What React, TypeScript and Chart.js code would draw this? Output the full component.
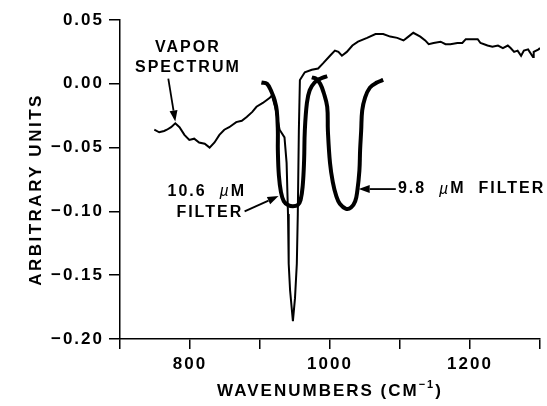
import { useEffect, useRef } from 'react';
import { Chart, registerables } from 'chart.js';

Chart.register(...registerables);

// ---- data ----
const vaporWavenumbers = [
  749, 756, 763, 767, 773, 779, 785, 792, 799, 806, 813, 821, 828, 835, 842, 849, 856, 866, 874, 881,
  889, 895, 904, 914, 917, 922, 928, 935, 938, 940, 941, 943, 947, 950, 952.6, 954, 955.5, 957, 964, 974,
  983, 990, 1000, 1007, 1012, 1017, 1024, 1032, 1040, 1053, 1065, 1076, 1086, 1096, 1105, 1112, 1119, 1129, 1136, 1141,
  1148, 1158, 1165, 1172, 1182, 1189, 1194, 1204, 1211, 1215, 1225, 1232, 1240, 1247, 1254, 1258, 1263, 1268, 1273, 1277,
  1283, 1290, 1291, 1298, 1300,
];
const vaporValues = [
  -0.036, -0.038, -0.037, -0.036, -0.034, -0.031, -0.034, -0.04, -0.044, -0.043, -0.046, -0.047, -0.05, -0.046, -0.04, -0.036, -0.034, -0.03, -0.029, -0.026,
  -0.022, -0.018, -0.015, -0.011, -0.009, -0.019, -0.036, -0.042, -0.062, -0.102, -0.141, -0.162, -0.186, -0.168, -0.141, -0.102, -0.037, 0.003, 0.009, 0.011,
  0.012, 0.016, 0.022, 0.026, 0.025, 0.022, 0.025, 0.03, 0.033, 0.036, 0.039, 0.039, 0.037, 0.036, 0.034, 0.037, 0.04, 0.037, 0.034, 0.031,
  0.032, 0.033, 0.031, 0.031, 0.032, 0.032, 0.035, 0.035, 0.035, 0.032, 0.03, 0.029, 0.03, 0.028, 0.03, 0.028, 0.025, 0.026, 0.022, 0.026,
  0.027, 0.021, 0.025, 0.027, 0.028,
];

const filter106Wavenumbers = [902, 910, 917, 921, 924, 925.5, 925.5, 927, 930, 934, 940, 947, 954, 958, 961, 963, 964, 967, 971, 978, 986, 996];
const filter106Values = [0.001, 0.0, -0.007, -0.013, -0.021, -0.037, -0.052, -0.072, -0.085, -0.092, -0.095, -0.096, -0.095, -0.091, -0.08, -0.06, -0.037, -0.015, -0.005, 0.001, 0.004, 0.006];

const filter98Wavenumbers = [974, 980, 986, 991, 996, 997, 1000, 1004, 1009, 1014, 1023, 1030, 1036, 1039, 1042, 1043, 1044.5, 1046, 1050, 1057, 1067, 1076];
const filter98Values = [0.005, 0.004, 0.0, -0.007, -0.018, -0.037, -0.062, -0.077, -0.088, -0.094, -0.098, -0.097, -0.092, -0.084, -0.068, -0.052, -0.037, -0.021, -0.011, -0.003, 0.001, 0.003];

const xTickLabels = ['800', '1000', '1200'];
const xRange = [700, 1300];
const yRange = [-0.2, 0.05];

const yTitle = 'ARBITRARY UNITS';
const xTitle = 'WAVENUMBERS (CM';

// annotation anchors in data coordinates
const vaporLabel = { x: 797, y1: 0.028, y2: 0.0125 };
const vaporArrow = { fromX: 769, fromY: 0.004, toX: 779, toY: -0.0295 };
const f106Label = { x: 824, y1: -0.0845, y2: -0.101 };
const f106Arrow = { fromX: 878, fromY: -0.1, toX: 926.5, toY: -0.088 };
const f98Label = { x: 1097, y: -0.0825 };
const f98Arrow = { fromX: 1094, fromY: -0.0825, toX: 1041, toY: -0.0825 };

const FONT = "'Liberation Sans', Arial, Helvetica, sans-serif";

type Seg = { t: string; f: string; dy?: number };

function drawRich(ctx: CanvasRenderingContext2D, segs: Seg[], x: number, y: number, align: 'left' | 'center') {
  let total = 0;
  const widths = segs.map((s) => {
    ctx.font = s.f;
    const w = ctx.measureText(s.t).width;
    total += w;
    return w;
  });
  let cx = align === 'center' ? x - total / 2 : x;
  ctx.textAlign = 'left';
  segs.forEach((s, i) => {
    ctx.font = s.f;
    ctx.fillText(s.t, cx, y + (s.dy || 0));
    cx += widths[i];
  });
}

function arrow(ctx: CanvasRenderingContext2D, x1: number, y1: number, x2: number, y2: number) {
  const ang = Math.atan2(y2 - y1, x2 - x1);
  const hl = 11;
  const hw = 4;
  const bx = x2 - hl * Math.cos(ang);
  const by = y2 - hl * Math.sin(ang);
  ctx.beginPath();
  ctx.moveTo(x1, y1);
  ctx.lineTo(bx, by);
  ctx.lineWidth = 1.8;
  ctx.stroke();
  ctx.beginPath();
  ctx.moveTo(x2, y2);
  ctx.lineTo(bx + hw * Math.sin(ang), by - hw * Math.cos(ang));
  ctx.lineTo(bx - hw * Math.sin(ang), by + hw * Math.cos(ang));
  ctx.closePath();
  ctx.fill();
}

const decorPlugin = {
  id: 'decor',
  beforeDraw(chart: any) {
    chart.ctx.letterSpacing = '2px';
  },
  afterDraw(chart: any) {
    const { ctx, chartArea } = chart;
    const xs = chart.scales.x;
    const ys = chart.scales.y;
    ctx.save();
    ctx.fillStyle = '#000';
    ctx.strokeStyle = '#000';
    ctx.textBaseline = 'middle';
    ctx.letterSpacing = '2px';
    const bold = `bold 16px ${FONT}`;
    const big = `bold 17px ${FONT}`;

    // y title
    ctx.save();
    ctx.letterSpacing = '2.5px';
    ctx.translate(36, (chartArea.top + chartArea.bottom) / 2 + 10);
    ctx.rotate(-Math.PI / 2);
    ctx.font = big;
    ctx.textAlign = 'center';
    ctx.fillText(yTitle, 0, 0);
    ctx.restore();

    // x title
    drawRich(
      ctx,
      [
        { t: xTitle, f: big },
        { t: '\u22121', f: `bold 11px ${FONT}`, dy: -6 },
        { t: ')', f: big },
      ],
      (chartArea.left + chartArea.right) / 2,
      chartArea.bottom + 52,
      'center'
    );

    // vapor spectrum
    ctx.font = bold;
    ctx.textAlign = 'center';
    ctx.fillText('VAPOR', xs.getPixelForValue(vaporLabel.x), ys.getPixelForValue(vaporLabel.y1));
    ctx.fillText('SPECTRUM', xs.getPixelForValue(vaporLabel.x), ys.getPixelForValue(vaporLabel.y2));
    arrow(ctx, xs.getPixelForValue(vaporArrow.fromX), ys.getPixelForValue(vaporArrow.fromY), xs.getPixelForValue(vaporArrow.toX), ys.getPixelForValue(vaporArrow.toY));

    // 10.6 filter
    drawRich(
      ctx,
      [
        { t: '10.6  ', f: bold },
        { t: '\u00b5', f: `italic 16px ${FONT}` },
        { t: 'M', f: bold },
      ],
      xs.getPixelForValue(f106Label.x),
      ys.getPixelForValue(f106Label.y1),
      'center'
    );
    ctx.font = bold;
    ctx.textAlign = 'center';
    ctx.fillText('FILTER', xs.getPixelForValue(f106Label.x) + 3, ys.getPixelForValue(f106Label.y2));
    arrow(ctx, xs.getPixelForValue(f106Arrow.fromX), ys.getPixelForValue(f106Arrow.fromY), xs.getPixelForValue(f106Arrow.toX), ys.getPixelForValue(f106Arrow.toY));

    // 9.8 filter
    drawRich(
      ctx,
      [
        { t: '9.8  ', f: bold },
        { t: '\u00b5', f: `italic 16px ${FONT}` },
        { t: 'M  FILTER', f: bold },
      ],
      xs.getPixelForValue(f98Label.x),
      ys.getPixelForValue(f98Label.y),
      'left'
    );
    arrow(ctx, xs.getPixelForValue(f98Arrow.fromX), ys.getPixelForValue(f98Arrow.fromY), xs.getPixelForValue(f98Arrow.toX), ys.getPixelForValue(f98Arrow.toY));
    ctx.restore();
  },
};

function fmtY(v: number) {
  if (Math.abs(v) < 1e-9) return '0.00';
  const s = Math.abs(v).toFixed(2);
  return v < 0 ? '\u2212' + s : s;
}

export default function App() {
  const ref = useRef<HTMLCanvasElement | null>(null);
  useEffect(() => {
    if (!ref.current) return;
    const toPts = (xs: number[], ys: number[]) => xs.map((x, i) => ({ x, y: ys[i] }));
    const chart = new Chart(ref.current, {
      type: 'line',
      data: {
        datasets: [
          {
            label: '10.6 µM filter',
            data: toPts(filter106Wavenumbers, filter106Values),
            borderColor: '#000',
            borderWidth: 4,
            pointRadius: 0,
            tension: 0.4,
            fill: false,
          },
          {
            label: '9.8 µM filter',
            data: toPts(filter98Wavenumbers, filter98Values),
            borderColor: '#000',
            borderWidth: 4,
            pointRadius: 0,
            tension: 0.4,
            fill: false,
          },
          {
            label: 'Vapor spectrum',
            data: toPts(vaporWavenumbers, vaporValues),
            borderColor: '#000',
            borderWidth: 2,
            pointRadius: 0,
            tension: 0,
            fill: false,
          },
        ],
      },
      options: {
        animation: false,
        responsive: false,
        devicePixelRatio: 1,
        layout: { padding: { top: 20, right: 7, left: 0, bottom: 0 } },
        plugins: { legend: { display: false }, tooltip: { enabled: false } },
        scales: {
          x: {
            type: 'linear',
            min: xRange[0],
            max: xRange[1],
            afterFit: (s: any) => {
              s.height = 67;
            },
            ticks: {
              stepSize: 100,
              color: '#000',
              font: { family: FONT, size: 17, weight: 'bold' },
              padding: 5,
              maxRotation: 0,
              autoSkip: false,
              callback: (v: any) => (xTickLabels.includes(String(v)) ? String(v) : ''),
            },
            grid: { display: true, drawOnChartArea: false, drawTicks: true, tickLength: 10, color: '#000', lineWidth: 1.5 },
            border: { display: true, color: '#000', width: 1.5 },
          },
          y: {
            type: 'linear',
            min: yRange[0],
            max: yRange[1],
            afterFit: (s: any) => {
              s.width = 120;
            },
            ticks: {
              stepSize: 0.05,
              color: '#000',
              font: { family: FONT, size: 17, weight: 'bold' },
              padding: 5,
              callback: (v: any) => fmtY(Number(v)),
            },
            grid: { display: true, drawOnChartArea: false, drawTicks: true, tickLength: 11, color: '#000', lineWidth: 1.5 },
            border: { display: true, color: '#000', width: 1.5 },
          },
        },
      },
      plugins: [decorPlugin],
    } as any);
    return () => chart.destroy();
  }, []);
  return (
    <div style={{ position: 'absolute', left: 0, top: 0, width: 547, height: 406, background: '#fff' }}>
      <canvas ref={ref} width={547} height={406} style={{ width: 547, height: 406, display: 'block' }} />
    </div>
  );
}
